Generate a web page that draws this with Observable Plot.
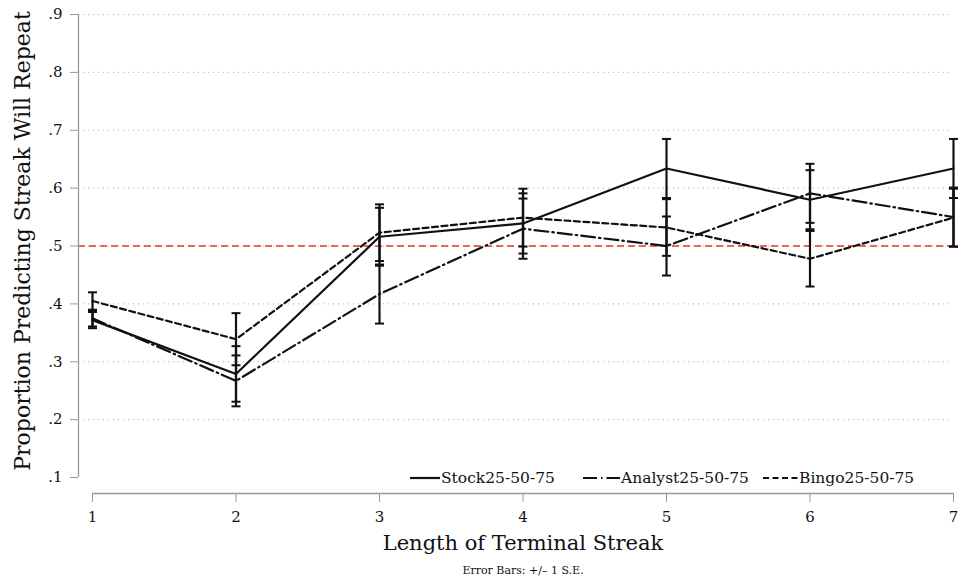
<!DOCTYPE html>
<html>
<head>
<meta charset="utf-8">
<script src="https://cdn.jsdelivr.net/npm/d3@7"></script>
<script src="https://cdn.jsdelivr.net/npm/@observablehq/plot@0.6"></script>
<style>
  body { margin: 0; background: #fff; }
  #wrap { position: relative; width: 960px; height: 580px; }
  #legend { position: absolute; top: 468px; left: 0; width: 960px; height: 20px; font-size: 15.5px; color: #111; }
  .item { position: absolute; top: 0; height: 20px; display: flex; align-items: center; white-space: nowrap; }
  .item svg { display: block; margin-right: 1px; }
</style>
</head>
<body>
<div id="wrap">
  <div id="chart"></div>
  <div id="legend" style="font-family:'DejaVu Serif'"></div>
</div>
<script>
// ---- data ----
const streakLength = [1, 2, 3, 4, 5, 6, 7];
const stockValues   = [0.372, 0.279, 0.516, 0.539, 0.634, 0.580, 0.634];
const stockSE       = [0.014, 0.048, 0.050, 0.052, 0.051, 0.051, 0.051];
const analystValues = [0.375, 0.267, 0.417, 0.530, 0.500, 0.591, 0.550];
const analystSE     = [0.014, 0.044, 0.051, 0.052, 0.051, 0.051, 0.051];
const bingoValues   = [0.405, 0.339, 0.523, 0.549, 0.532, 0.478, 0.549];
const bingoSE       = [0.015, 0.045, 0.049, 0.050, 0.049, 0.048, 0.050];
const seriesNames = ["Stock25-50-75", "Analyst25-50-75", "Bingo25-50-75"];
const xTicks = [1, 2, 3, 4, 5, 6, 7];
const yTicks = [0.1, 0.2, 0.3, 0.4, 0.5, 0.6, 0.7, 0.8, 0.9];
const gridTicks = [0.2, 0.3, 0.4, 0.5, 0.6, 0.7, 0.8, 0.9];
const referenceLine = [0.5];
const xLabel = "Length of Terminal Streak";
const yLabel = "Proportion Predicting Streak Will Repeat";
const note = "Error Bars: +/\u2013 1 S.E.";

// ---- styles ----
const dashes = {"Stock25-50-75": null, "Analyst25-50-75": "14,4,1.5,4", "Bingo25-50-75": "6,3.5"};
const font = "DejaVu Serif";
const xDomain = [0.9024, 7];
const yDomain = [0.0724, 0.9];

const valuesBySeries = [stockValues, analystValues, bingoValues];
const seBySeries = [stockSE, analystSE, bingoSE];
const rows = seriesNames.flatMap((s, i) =>
  streakLength.map((x, j) => ({series: s, x, v: valuesBySeries[i][j], se: seBySeries[i][j]})));
const caps = rows.flatMap(d => [{x: d.x, y: d.v - d.se}, {x: d.x, y: d.v + d.se}]);

const capSymbol = {
  draw(context, size) {
    const w = Math.sqrt(size / Math.PI);
    context.moveTo(-w, 0);
    context.lineTo(w, 0);
  }
};

const lineMarks = seriesNames.map(s =>
  Plot.line(rows.filter(d => d.series === s), {
    x: "x", y: "v", stroke: "#111", strokeWidth: 2.2,
    strokeDasharray: dashes[s] ?? undefined, strokeLinejoin: "miter"
  }));

const chart = Plot.plot({
  width: 960,
  height: 580,
  marginTop: 14,
  marginLeft: 78,
  marginRight: 7,
  marginBottom: 87,
  x: {domain: xDomain},
  y: {domain: yDomain},
  marks: [
    Plot.ruleY(gridTicks, {stroke: "#aaa", strokeWidth: 1, strokeDasharray: "1,4"}),
    Plot.ruleY(referenceLine, {stroke: "#e8391f", strokeWidth: 1.4, strokeDasharray: "7,4"}),
    Plot.ruleX([xDomain[0]], {y1: d3.min(yTicks), y2: d3.max(yTicks), stroke: "#999", strokeWidth: 1.3}),
    Plot.ruleY([yDomain[0]], {x1: d3.min(xTicks), x2: d3.max(xTicks), stroke: "#999", strokeWidth: 1.3}),
    Plot.axisY({ticks: yTicks, tickFormat: d => d3.format(".1f")(d).replace(/^0/, ""), tickSize: 8, tickPadding: 8,
      stroke: "#999", fill: "#111", fontSize: 15, label: null}),
    Plot.axisX({ticks: xTicks, tickFormat: d3.format("d"), tickSize: 9, tickPadding: 9,
      stroke: "#999", fill: "#111", fontSize: 15, label: null}),
    Plot.text([yLabel], {frameAnchor: "left", textAnchor: "middle", rotate: -90, dx: -56, dy: -13, fontSize: 22, fill: "#111"}),
    Plot.text([xLabel], {frameAnchor: "bottom", textAnchor: "middle", dx: 7, dy: 56, fontSize: 21, fill: "#111"}),
    Plot.text([note], {frameAnchor: "bottom", textAnchor: "middle", dx: 7, dy: 80, fontSize: 11, fill: "#111"}),
    ...lineMarks,
    Plot.ruleX(rows, {x: "x", y1: d => d.v - d.se, y2: d => d.v + d.se, stroke: "#111", strokeWidth: 2.2}),
    Plot.dot(caps, {x: "x", y: "y", symbol: capSymbol, r: 4.5, stroke: "#111", strokeWidth: 2, fill: "none"})
  ]
});
chart.setAttribute("font-family", font);
chart.style.fontFamily = "'" + font + "'";
chart.querySelectorAll("g, text").forEach(el => { el.style.fontFamily = "'" + font + "'"; });
document.getElementById("chart").appendChild(chart);

// ---- legend ----
const legendLeft = {"Stock25-50-75": 410, "Analyst25-50-75": 583, "Bingo25-50-75": 763};
const legendLine = {"Stock25-50-75": 30, "Analyst25-50-75": 37, "Bingo25-50-75": 35};
const legend = document.getElementById("legend");
for (const s of seriesNames) {
  const item = document.createElement("div");
  item.className = "item";
  item.style.left = legendLeft[s] + "px";
  item.style.fontFamily = "'" + font + "'";
  const w = legendLine[s];
  const dash = dashes[s] ? `stroke-dasharray="${dashes[s]}"` : "";
  item.innerHTML = `<svg width="${w}" height="20"><line x1="0" y1="10" x2="${w}" y2="10" stroke="#111" stroke-width="2.2" ${dash}/></svg><span style="font-family:'DejaVu Serif'">${s}</span>`;
  legend.appendChild(item);
}
</script>
</body>
</html>
